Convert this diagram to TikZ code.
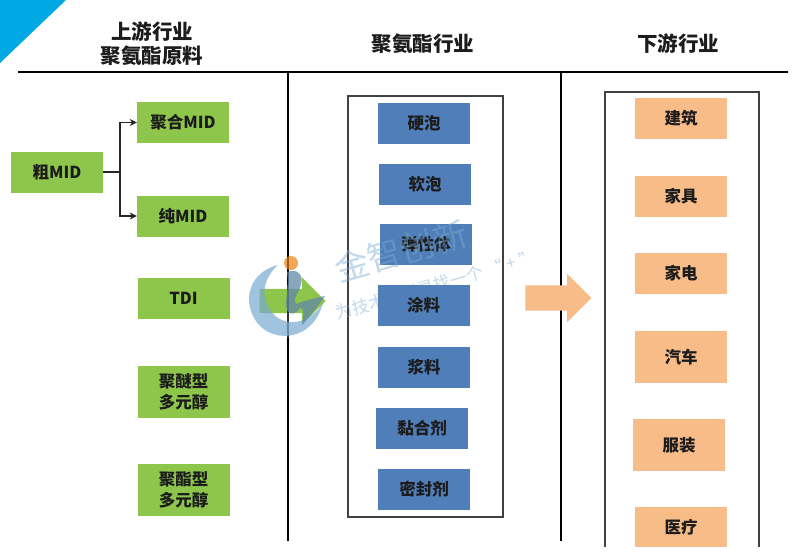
\documentclass[tikz,border=0pt]{standalone}
\usepackage{fontspec}
\setmainfont{Noto Sans CJK SC}
\usepackage{tikz}
\usetikzlibrary{arrows.meta,positioning,calc,shapes.arrows}
\definecolor{cgreen}{RGB}{141,198,75}
\definecolor{cblue}{RGB}{80,126,185}
\definecolor{corange}{RGB}{248,188,136}
\definecolor{ccyan}{RGB}{0,168,228}
\definecolor{cink}{RGB}{28,28,28}
\definecolor{cmark}{RGB}{120,170,210}
\tikzset{
  blk/.style={minimum width=92pt, minimum height=41pt, inner sep=0pt, align=center,
              font=\fontsize{16.5}{21}\selectfont\bfseries, text=cink},
  gbox/.style={blk, fill=cgreen},
  bbox/.style={blk, fill=cblue},
  obox/.style={blk, fill=corange},
  ttl/.style={font=\fontsize{20.5}{24}\selectfont\bfseries, text=cink, align=center, inner sep=0pt},
  rule/.style={black, line width=2.4pt},
  frm/.style={draw=black!75, line width=1.5pt},
  flowarr/.style={-{Stealth[length=7pt,width=7pt]}, black!85, line width=1.4pt},
  barr/.style={shape=single arrow, minimum height=66pt, inner sep=0pt,
               single arrow head extend=11.5pt, single arrow head indent=0pt},
  wm/.style={text=cmark, opacity=0.45, inner sep=0pt, rotate=16},
}
\begin{document}
\begin{tikzpicture}[x=1pt, y=-1pt]
  \useasboundingbox (0,0) rectangle (805,557);
  \fill[ccyan] (0,0) -- (66,0) -- (0,63) -- cycle;
  % headings and rules
  \node[ttl] (tup) at (152,44) {上游行业\\聚氨酯原料};
  \node[ttl] (tmid) at (423,44) {聚氨酯行业};
  \node[ttl] (tdown) at (678,44) {下游行业};
  \coordinate (rl) at (18,72);
  \coordinate (rr) at (788,72);
  \coordinate (ra) at (288,72);
  \coordinate (rb) at (561,72);
  \coordinate (ra2) at (288,541);
  \coordinate (rb2) at (561,541);
  \draw[rule] (rl) -- (rr);
  \draw[rule] (ra) -- (ra2);
  \draw[rule] (rb) -- (rb2);
  % frames
  \node[frm, minimum width=155pt, minimum height=421pt, inner sep=0pt] (fmid) at (425.5,306.5) {};
  \draw[frm] (605,547) -- (605,92) -- (759,92) -- (759,547);
  % upstream
  \node[gbox] (cu) at (57,172) {粗MID};
  \node[gbox] (jh) at (183,122.5) {聚合MID};
  \node[gbox] (ch) at (183,216) {纯MID};
  \node[gbox] (tdi) at (183.5,298) {TDI};
  \node[gbox, minimum height=52pt] (pe) at (183.5,392) {聚醚型\\多元醇};
  \node[gbox, minimum height=52pt] (pz) at (183.5,490) {聚酯型\\多元醇};
  \coordinate (jn) at (120,172);
  \draw[black!85, line width=1.4pt] (cu) -- (jn);
  \draw[flowarr] (jn) |- (jh);
  \draw[flowarr] (jn) |- (ch);
  % watermark line under the boxes
  \node[wm, font=\fontsize{17}{17}\selectfont] (wm2) at (436,285) {为技术创新寻找一个 “ + ”};
  % middle
  \node[bbox] (yp) at (424,123.5) {硬泡};
  \node[bbox] (rp) at (425,184.5) {软泡};
  \node[bbox] (tx) at (426,244.5) {弹性体};
  \node[bbox] (tl) at (423.5,305.5) {涂料};
  \node[bbox] (jl) at (424,367) {浆料};
  \node[bbox] (nh) at (422,428) {黏合剂};
  \node[bbox] (mf) at (424,489) {密封剂};
  % downstream
  \node[obox] (jz) at (681,118.5) {建筑};
  \node[obox] (jj) at (681,196.5) {家具};
  \node[obox] (jd) at (681,273.5) {家电};
  \node[obox, minimum height=52pt] (qc) at (681,357) {汽车};
  \node[obox, minimum height=52pt] (fz) at (679,445) {服装};
  \node[obox, minimum height=40pt] (yl) at (681,527) {医疗};
  % block arrows
  \node[barr, fill=cgreen] (ga) at (286.5,301) {\rule{0pt}{24pt}};
  \node[barr, fill=corange] (oa) at (552,298) {\rule{0pt}{25pt}};
  \draw[black!80, line width=2.4pt] (288,285) -- (288,338);
  % logo
  \fill[cmark, opacity=0.7] (278,265) .. controls (250,272) and (243,298) .. (254,318)
    .. controls (268,344) and (312,344) .. (323,303)
    .. controls (308,326) and (282,328) .. (270,310)
    .. controls (260,294) and (264,278) .. (278,265) -- cycle;
  \fill[cmark!80!black, opacity=0.75] (287,272) .. controls (296,268) and (304,274) .. (301,284)
    .. controls (299,294) and (292,298) .. (296,304)
    .. controls (306,300) and (316,298) .. (325,296)
    .. controls (318,306) and (310,316) .. (302,325)
    .. controls (304,314) and (304,308) .. (300,308)
    .. controls (296,314) and (290,316) .. (287,310)
    .. controls (284,298) and (290,290) .. (287,272) -- cycle;
  \fill[orange!70!brown, opacity=0.7] (291,263) circle (7pt);
  \node[wm, font=\fontsize{34}{34}\selectfont] (wm1) at (401,251) {金智创新};
\end{tikzpicture}
\end{document}
